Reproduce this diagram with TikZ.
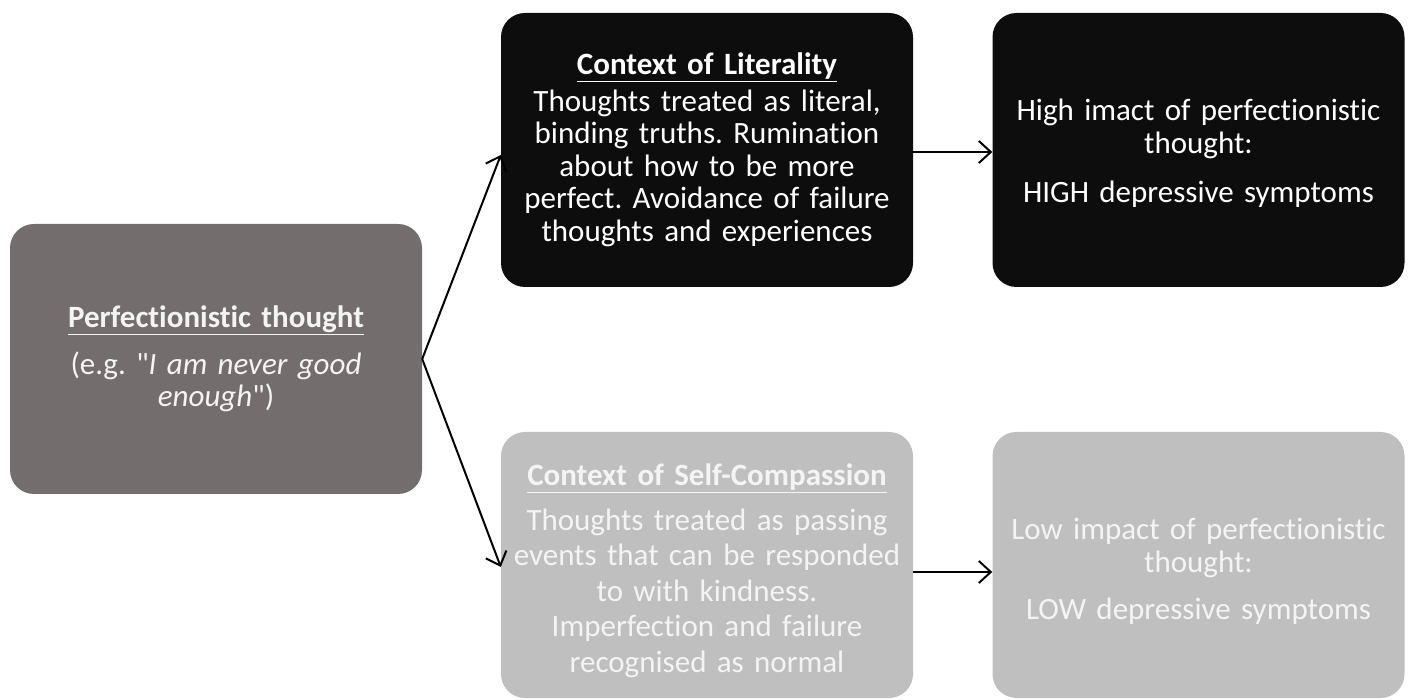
\documentclass[tikz,border=0pt]{standalone}
\usepackage{fontspec}
\setmainfont{Carlito}[Ligatures=NoCommon]
\usetikzlibrary{arrows.meta}
\definecolor{leftfill}{HTML}{736D6D}
\definecolor{darkfill}{HTML}{0D0D0D}
\definecolor{lightfill}{HTML}{BFBFBF}
\definecolor{lighttext}{HTML}{F4F4F4}
\newcommand{\sq}{{\XeTeXglyph\XeTeXcharglyph"22\relax}}
\tikzset{
  box/.style={rounded corners=24pt, minimum width=412pt, align=center, inner sep=0pt,
    font=\fontsize{31}{32.5}\selectfont\frenchspacing},
  leftbox/.style={box, fill=leftfill, text=lighttext, minimum height=270pt, text width=400pt},
  darkbox/.style={box, fill=darkfill, text=white, minimum height=274pt, text width=400pt},
  lightbox/.style={box, fill=lightfill, text=lighttext, minimum height=266pt, text width=400pt},
  boxtext/.style={align=center, inner sep=0pt, text width=400pt, font=\fontsize{31}{33}\selectfont\frenchspacing},
  conn/.style={line width=2pt, -{Straight Barb[length=12pt,width=22pt,line width=2pt]}}
}
\begin{document}
\begin{tikzpicture}[x=1pt,y=-1pt]
\useasboundingbox (0,0) rectangle (1409,700);
\node[leftbox] (L) at (216,359) {\textbf{\underline{Perfectionistic thought}}\\[14pt]
(e.g. \sq\textit{I am never good}\\\textit{enough}\sq)};
\node[darkbox] (TM) at (707,150) {\textbf{\underline{Context of Literality}}\\[4pt]
Thoughts treated as literal,\\binding truths. Rumination\\about how to be more\\perfect. Avoidance of failure\\thoughts and experiences};
\node[darkbox] (TR) at (1198.5,150) {};
\node[boxtext, text=white] (TRt) at (1198.5,153) {High imact of perfectionistic\\thought:\\[16pt]HIGH depressive symptoms};
\node[lightbox] (BM) at (707,565) {};
\node[boxtext, text=lighttext, font=\fontsize{31}{35.5}\selectfont\frenchspacing] (BMt) at (707,571)
{\textbf{\underline{Context of Self-Compassion}}\\[9pt]
Thoughts treated as passing\\events that can be responded\\to with kindness.\\Imperfection and failure\\recognised as normal};
\node[lightbox] (BR) at (1198.5,565) {};
\node[boxtext, text=lighttext] (BRt) at (1198.5,571) {Low impact of perfectionistic\\thought:\\[14pt]LOW depressive symptoms};
\draw[conn] (L.east) -- ([yshift=-5pt]TM.west);
\draw[conn] (L.east) -- ([yshift=-2pt]BM.west);
\draw[conn] ([yshift=-2pt]TM.east) coordinate (a1) -- (a1 -| TR.west);
\draw[conn] ([yshift=-7pt]BM.east) coordinate (a2) -- (a2 -| BR.west);
\end{tikzpicture}
\end{document}
